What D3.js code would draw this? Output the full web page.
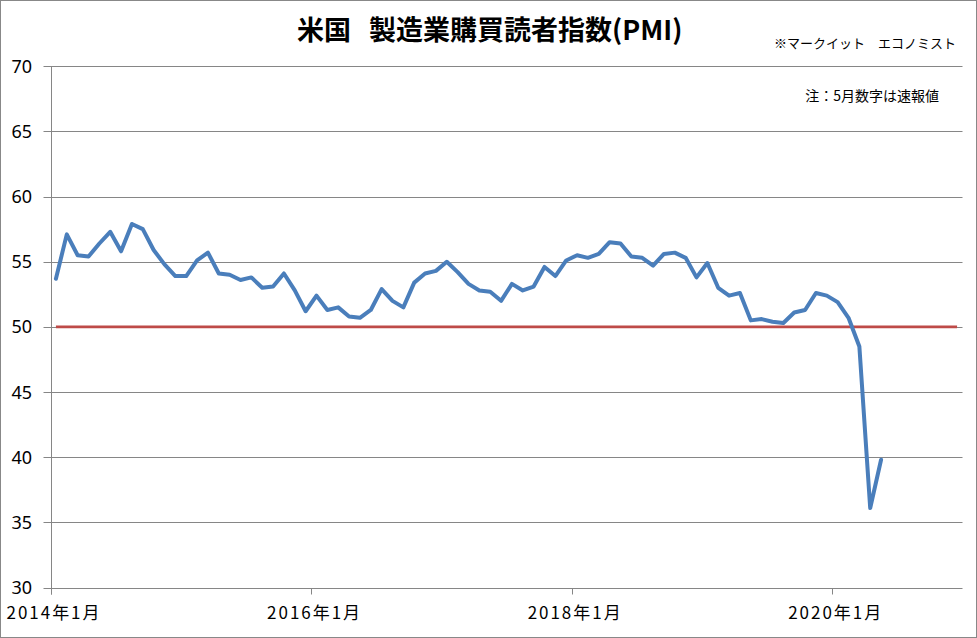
<!DOCTYPE html>
<html>
<head>
<meta charset="utf-8">
<script src="https://cdn.jsdelivr.net/npm/d3@7"></script>
<style>
  html, body { margin: 0; padding: 0; background: #fff; }
  svg { display: block; }
</style>
</head>
<body>
<svg id="chart" width="977" height="638"></svg>
<script>
// ---- data ----
const titleParts = ["米国", "製造業購買読者指数(PMI)"];
const sourceText = "※マークイット\u3000エコノミスト";
const noteText = "注：5月数字は速報値";

// monthly categories Jan 2014 .. Dec 2020 (axis range)
const startMonth = new Date(2014, 0, 1);
const endMonth = new Date(2021, 0, 1);
const categories = d3.timeMonth.range(startMonth, endMonth);

// US manufacturing PMI, Jan 2014 .. May 2020
const pmi2014 = [53.7, 57.1, 55.5, 55.4, 56.4, 57.3, 55.8, 57.9, 57.5, 55.9, 54.8, 53.9];
const pmi2015 = [53.9, 55.1, 55.7, 54.1, 54.0, 53.6, 53.8, 53.0, 53.1, 54.1, 52.8, 51.2];
const pmi2016 = [52.4, 51.3, 51.5, 50.8, 50.7, 51.3, 52.9, 52.0, 51.5, 53.4, 54.1, 54.3];
const pmi2017 = [55.0, 54.2, 53.3, 52.8, 52.7, 52.0, 53.3, 52.8, 53.1, 54.6, 53.9, 55.1];
const pmi2018 = [55.5, 55.3, 55.6, 56.5, 56.4, 55.4, 55.3, 54.7, 55.6, 55.7, 55.3, 53.8];
const pmi2019 = [54.9, 53.0, 52.4, 52.6, 50.5, 50.6, 50.4, 50.3, 51.1, 51.3, 52.6, 52.4];
const pmi2020 = [51.9, 50.7, 48.5, 36.1, 39.8];
const pmiValues = [].concat(pmi2014, pmi2015, pmi2016, pmi2017, pmi2018, pmi2019, pmi2020);

const thresholdValue = 50;

const yTicks = [30, 35, 40, 45, 50, 55, 60, 65, 70];
const xTickLabels = ["2014年1月", "2016年1月", "2018年1月", "2020年1月"];
const xTickIndex = [0, 24, 48, 72];

// ---- layout ----
const svg = d3.select("#chart");
const W = 977, H = 638;
const plot = { left: 50.5, right: 962.5, top: 66.3, bottom: 587.5 };

const x = d3.scaleBand()
  .domain(d3.range(categories.length))
  .range([plot.left, plot.right])
  .paddingInner(0).paddingOuter(0);
const xc = i => x(i) + x.bandwidth() / 2;

const y = d3.scaleLinear().domain([30, 70]).range([plot.bottom, plot.top]);

const gridColor = "#868686";
const fontJP = "'Noto Sans CJK JP', 'Noto Sans', sans-serif";

// outer frame
svg.append("rect")
  .attr("x", 0.5).attr("y", 0.5)
  .attr("width", W - 1).attr("height", H - 1)
  .attr("fill", "#fff").attr("stroke", "#888").attr("stroke-width", 1);

// gridlines
svg.append("g").selectAll("line").data(yTicks).join("line")
  .attr("x1", plot.left - 7).attr("x2", plot.right)
  .attr("y1", d => Math.round(y(d)) + 0.5).attr("y2", d => Math.round(y(d)) + 0.5)
  .attr("stroke", gridColor).attr("stroke-width", 1);

// y axis line
svg.append("line")
  .attr("x1", Math.round(plot.left) + 0.5).attr("x2", Math.round(plot.left) + 0.5)
  .attr("y1", Math.round(y(70)) + 0.5).attr("y2", Math.round(plot.bottom) + 6.5)
  .attr("stroke", gridColor).attr("stroke-width", 1);

// y labels
svg.append("g").selectAll("text").data(yTicks).join("text")
  .attr("x", 32).attr("y", d => y(d))
  .attr("dy", "0.36em")
  .attr("text-anchor", "end")
  .attr("font-family", "'Noto Sans', sans-serif")
  .attr("font-size", 18)
  .attr("fill", "#000")
  .text(d => d);

// x ticks
svg.append("g").selectAll("line").data(xTickIndex).join("line")
  .attr("x1", d => Math.round(x(d)) + 0.5).attr("x2", d => Math.round(x(d)) + 0.5)
  .attr("y1", Math.round(plot.bottom)).attr("y2", Math.round(plot.bottom) + 6.5)
  .attr("stroke", gridColor).attr("stroke-width", 1);

// x labels
svg.append("g").selectAll("text").data(xTickIndex).join("text")
  .attr("x", d => x(d) - 44)
  .attr("y", 619)
  .attr("text-anchor", "start")
  .attr("font-family", fontJP)
  .attr("font-size", 17)
  .attr("textLength", 93)
  .attr("lengthAdjust", "spacing")
  .attr("fill", "#000")
  .text((d, i) => xTickLabels[i]);

// threshold line at 50
svg.append("line")
  .attr("x1", xc(0)).attr("x2", xc(categories.length - 1))
  .attr("y1", y(thresholdValue)).attr("y2", y(thresholdValue))
  .attr("stroke", "#BE4B48").attr("stroke-width", 2.8);

// PMI line
const line = d3.line().x((d, i) => xc(i)).y(d => y(d));
svg.append("path")
  .datum(pmiValues)
  .attr("d", line)
  .attr("fill", "none")
  .attr("stroke", "#4A7EBB")
  .attr("stroke-width", 4)
  .attr("stroke-linejoin", "round")
  .attr("stroke-linecap", "round");

// title
const title = svg.append("text")
  .attr("y", 40)
  .attr("font-family", fontJP)
  .attr("font-weight", "bold")
  .attr("font-size", 27)
  .attr("fill", "#000");
title.append("tspan").attr("x", 297).text(titleParts[0]);
title.append("tspan").attr("x", 369).text(titleParts[1]);

// source
svg.append("text")
  .attr("x", 956).attr("y", 48)
  .attr("text-anchor", "end")
  .attr("font-family", fontJP)
  .attr("font-size", 13)
  .attr("fill", "#000")
  .text(sourceText);

// note
svg.append("text")
  .attr("x", 939).attr("y", 101)
  .attr("text-anchor", "end")
  .attr("font-family", fontJP)
  .attr("font-size", 14)
  .attr("fill", "#000")
  .text(noteText);
</script>
</body>
</html>
